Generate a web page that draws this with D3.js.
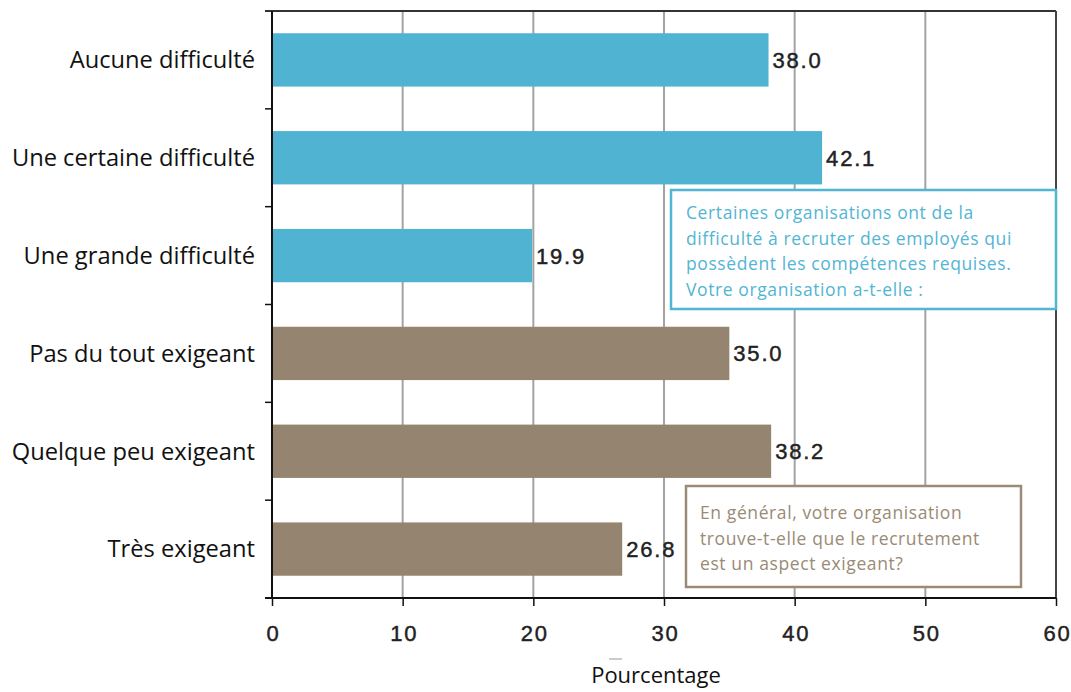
<!DOCTYPE html>
<html lang="fr">
<head>
<meta charset="utf-8">
<script src="https://cdn.jsdelivr.net/npm/d3@7"></script>
<style>
  html, body { margin: 0; padding: 0; background: #fff; }
  svg { display: block; }
</style>
</head>
<body>
<div id="chart"></div>
<script>
// Réponses au sondage sur le recrutement (pourcentages)
const categories = [
  "Aucune difficulté",
  "Une certaine difficulté",
  "Une grande difficulté",
  "Pas du tout exigeant",
  "Quelque peu exigeant",
  "Très exigeant"
];
const values = [38.0, 42.1, 19.9, 35.0, 38.2, 26.8];
const groups = ["difficulte", "difficulte", "difficulte", "exigeant", "exigeant", "exigeant"];
const xTicks = [0, 10, 20, 30, 40, 50, 60];
const axisTitle = "Pourcentage";
const note1 = [
  "Certaines organisations ont de la",
  "difficulté à recruter des employés qui",
  "possèdent les compétences requises.",
  "Votre organisation a-t-elle :"
];
const note2 = [
  "En général, votre organisation",
  "trouve-t-elle que le recrutement",
  "est un aspect exigeant?"
];

const W = 1071, H = 692;
const plot = { left: 272, right: 1056, top: 11, bottom: 598 };
const colors = { difficulte: "#4fb3d1", exigeant: "#958570" };
const numFont = "'Liberation Sans', Arial, sans-serif";
const labelFont = "'Open Sans', 'Noto Sans', sans-serif";

const svg = d3.select("#chart").append("svg")
  .attr("width", W).attr("height", H);

const x = d3.scaleLinear().domain([0, 60]).range([plot.left, plot.right]);
const y = d3.scaleBand().domain(categories).range([plot.top, plot.bottom])
  .paddingInner(0.455).paddingOuter(0.2275);

// Vertical gridlines
svg.append("g").selectAll("line")
  .data(xTicks.filter(t => t > 0 && t < 60))
  .join("line")
  .attr("x1", d => x(d)).attr("x2", d => x(d))
  .attr("y1", plot.top).attr("y2", plot.bottom)
  .attr("stroke", "#a3a3a3").attr("stroke-width", 2);

// Frame: top and right edges
svg.append("line").attr("x1", plot.left - 7).attr("x2", plot.right)
  .attr("y1", plot.top).attr("y2", plot.top)
  .attr("stroke", "#333").attr("stroke-width", 2);
svg.append("line").attr("x1", plot.right).attr("x2", plot.right)
  .attr("y1", plot.top).attr("y2", plot.bottom)
  .attr("stroke", "#444").attr("stroke-width", 2);

// Bars
svg.append("g").selectAll("rect")
  .data(categories)
  .join("rect")
  .attr("x", x(0))
  .attr("y", d => y(d))
  .attr("width", (d, i) => x(values[i]) - x(0))
  .attr("height", y.bandwidth())
  .attr("fill", (d, i) => colors[groups[i]]);

// Value labels
svg.append("g").selectAll("text")
  .data(categories)
  .join("text")
  .attr("x", (d, i) => x(values[i]) + 4)
  .attr("y", d => y(d) + y.bandwidth() / 2)
  .attr("dy", "0.36em")
  .attr("font-family", numFont)
  .attr("font-size", 22)
  .attr("letter-spacing", 1.8)
  .attr("fill", "#222")
  .attr("stroke", "#222").attr("stroke-width", 0.45)
  .text((d, i) => values[i].toFixed(1));

// Left axis with ticks at band boundaries
const boundaries = categories.slice(1).map(c => y(c) - y.step() * y.paddingInner() / 2);
svg.append("line").attr("x1", plot.left).attr("x2", plot.left)
  .attr("y1", plot.top).attr("y2", plot.bottom)
  .attr("stroke", "#111").attr("stroke-width", 2);
svg.append("g").selectAll("line")
  .data(boundaries)
  .join("line")
  .attr("x1", plot.left - 7).attr("x2", plot.left)
  .attr("y1", d => d).attr("y2", d => d)
  .attr("stroke", "#111").attr("stroke-width", 1.5);

// Category labels
svg.append("g").selectAll("text")
  .data(categories)
  .join("text")
  .attr("x", 255)
  .attr("y", d => y(d) + y.bandwidth() / 2)
  .attr("dy", "0.35em")
  .attr("text-anchor", "end")
  .attr("font-family", labelFont)
  .attr("font-size", 23.7)
  .attr("fill", "#111")
  .text(d => d);

// Bottom axis
const xAxis = d3.axisBottom(x).tickValues(xTicks).tickSize(8).tickFormat(d3.format("d"));
const gx = svg.append("g").attr("transform", `translate(0,${plot.bottom})`).call(xAxis);
gx.select(".domain").attr("d", `M${plot.left - 7},0H${plot.right}`).attr("stroke", "#111").attr("stroke-width", 2);
gx.selectAll(".tick line").attr("stroke", "#111").attr("stroke-width", 1.5);
gx.selectAll(".tick text")
  .attr("y", 27)
  .attr("dx", 1)
  .attr("font-family", numFont)
  .attr("font-size", 22)
  .attr("letter-spacing", 1.8)
  .attr("fill", "#222")
  .attr("stroke", "#222").attr("stroke-width", 0.45);

// Axis title
svg.append("line")
  .attr("x1", 609).attr("x2", 622).attr("y1", 659).attr("y2", 659)
  .attr("stroke", "#bbb").attr("stroke-width", 1.5);
svg.append("text")
  .attr("x", 656).attr("y", 683)
  .attr("text-anchor", "middle")
  .attr("font-family", labelFont)
  .attr("font-size", 22)
  .attr("fill", "#111")
  .text(axisTitle);

// Annotation boxes
function noteBox(bx, by, bw, bh, lines, color, tx, ty0, lh) {
  svg.append("rect")
    .attr("x", bx).attr("y", by).attr("width", bw).attr("height", bh)
    .attr("fill", "#fff").attr("stroke", color).attr("stroke-width", 2.5);
  svg.append("g").selectAll("text")
    .data(lines)
    .join("text")
    .attr("x", tx)
    .attr("y", (d, i) => ty0 + i * lh)
    .attr("font-family", labelFont)
    .attr("font-weight", 400)
    .attr("font-size", 17.5)
    .attr("letter-spacing", 0.6)
    .attr("fill", color)
    .text(d => d);
}
noteBox(671, 190, 385, 119, note1, "#52b5d4", 686, 219, 25.5);
noteBox(686, 486, 335, 101, note2, "#9a8a76", 700, 519, 25.5);
</script>
</body>
</html>
